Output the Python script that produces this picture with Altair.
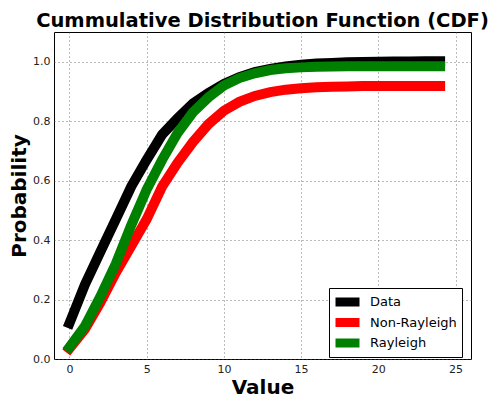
import altair as alt
import pandas as pd

# ---- data ----
x_vals = list(range(25))
data_cdf = [0.12, 0.25, 0.36, 0.47, 0.58, 0.67, 0.755, 0.81, 0.86, 0.895,
            0.925, 0.948, 0.965, 0.976, 0.984, 0.99, 0.994, 0.996, 0.998,
            0.999, 1.0, 1.001, 1.001, 1.002, 1.002]
non_rayleigh_cdf = [0.035, 0.10, 0.19, 0.29, 0.38, 0.47, 0.58, 0.66, 0.73, 0.79,
                    0.835, 0.865, 0.885, 0.898, 0.906, 0.911, 0.914, 0.916, 0.917,
                    0.918, 0.918, 0.918, 0.918, 0.918, 0.918]
rayleigh_cdf = [0.04, 0.11, 0.21, 0.32, 0.45, 0.57, 0.67, 0.76, 0.83, 0.88,
                0.92, 0.945, 0.961, 0.972, 0.978, 0.981, 0.983, 0.984, 0.985,
                0.985, 0.985, 0.985, 0.985, 0.985, 0.985]
series_names = ["Data", "Non-Rayleigh", "Rayleigh"]
series_colors = ["#000000", "#ff0000", "#008000"]
x_ticks = [0, 5, 10, 15, 20, 25]
y_ticks = [0.0, 0.2, 0.4, 0.6, 0.8, 1.0]

rows = []
for name, vals in zip(series_names, [data_cdf, non_rayleigh_cdf, rayleigh_cdf]):
    for x, v in zip(x_vals, vals):
        rows.append({"Value": x, "Probability": v, "Series": name})
df = pd.DataFrame(rows)

FONT = "DejaVu Sans"

chart = alt.Chart(df).mark_line(strokeWidth=10, strokeCap="square", strokeJoin="miter").encode(
    x=alt.X("Value:Q",
            scale=alt.Scale(domain=[-1, 26], nice=False, zero=False),
            axis=alt.Axis(values=x_ticks, title="Value", titleY=34,
                          titleBaseline="alphabetic", titleFontSize=20,
                          titleFont=FONT, titleFontWeight="bold",
                          titleColor="black")),
    y=alt.Y("Probability:Q",
            scale=alt.Scale(domain=[0, 1.1], nice=False),
            axis=alt.Axis(values=y_ticks, format=".1f", title="Probability",
                          titleX=-29, titleY=163.5, titleAngle=-90,
                          titleAlign="center", titleBaseline="alphabetic",
                          titleFontSize=20, titleFont=FONT,
                          titleFontWeight="bold", titleColor="black")),
    color=alt.Color("Series:N",
                    scale=alt.Scale(domain=series_names, range=series_colors),
                    legend=alt.Legend(orient="none", legendX=275, legendY=256,
                                      title=None, strokeColor="black",
                                      fillColor="white", padding=5,
                                      symbolType="stroke", symbolSize=576,
                                      symbolStrokeWidth=9, symbolOffset=-3,
                                      labelFontSize=13,
                                      labelFont=FONT, labelColor="black",
                                      labelOffset=6, clipHeight=18,
                                      rowPadding=2.5, cornerRadius=0)),
).properties(
    width=417,
    height=327,
    background="white",
    title=alt.TitleParams("Cummulative Distribution Function (CDF)",
                          fontSize=19.5, font=FONT, fontWeight="bold",
                          anchor="middle", color="black", offset=1),
    autosize=alt.AutoSizeParams(type="none"),
    padding={"left": 46, "top": 24, "right": 24, "bottom": 38},
).configure_view(
    stroke="black", strokeWidth=1
).configure_axis(
    domain=False, ticks=False, grid=True, gridDash=[1, 3], gridColor="#555",
    gridWidth=0.8, labelFont=FONT, labelFontSize=11, labelColor="#222",
    labelPadding=4
)

chart.save("out.html", embed_options={"renderer": "svg", "actions": False})
